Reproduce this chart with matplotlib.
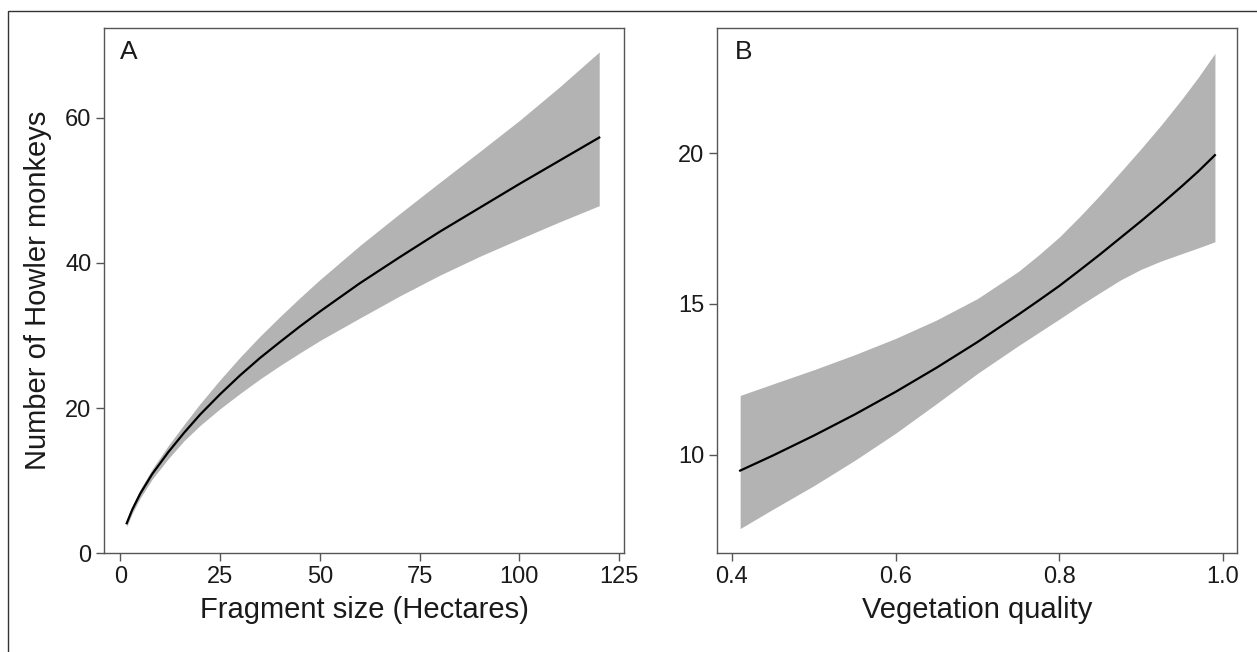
import matplotlib
matplotlib.use("Agg")
import matplotlib.pyplot as plt
from matplotlib.patches import Rectangle

plt.rcParams['font.family'] = ['Liberation Sans', 'DejaVu Sans']

# panel A: fragment size vs predicted number of monkeys
size_ha = [1.6, 3, 5, 8, 12, 16, 20, 25, 30, 35, 40, 45, 50, 60, 70, 80, 90,
           100, 110, 120]
size_fit = [4.1, 6.0, 8.2, 10.9, 13.9, 16.6, 19.1, 21.9, 24.5, 26.9, 29.1, 31.25,
            33.3, 37.2, 40.8, 44.3, 47.6, 50.9, 54.1, 57.3]
size_hi = [4.55, 6.5, 8.8, 11.6, 14.8, 17.75, 20.6, 23.9, 27.0, 29.9, 32.6, 35.2,
           37.7, 42.4, 46.8, 51.1, 55.35, 59.65, 64.25, 69.1]
size_lo = [3.65, 5.5, 7.6, 10.2, 13.0, 15.5, 17.6, 19.9, 22.0, 24.0, 25.85, 27.6,
           29.3, 32.4, 35.45, 38.3, 40.9, 43.3, 45.65, 47.9]

# panel B: vegetation quality
veg_q = [0.41, 0.45, 0.5, 0.55, 0.6, 0.65, 0.7, 0.75, 0.775, 0.8, 0.825, 0.85,
         0.875, 0.9, 0.925, 0.95, 0.97, 0.99]
veg_fit = [9.48, 9.98, 10.64, 11.34, 12.09, 12.89, 13.74, 14.65, 15.12, 15.6,
           16.12, 16.65, 17.2, 17.75, 18.32, 18.91, 19.4, 19.93]
veg_hi = [11.97, 12.35, 12.82, 13.32, 13.86, 14.47, 15.18, 16.08, 16.63, 17.22,
          17.9, 18.62, 19.38, 20.15, 20.95, 21.8, 22.52, 23.3]
veg_lo = [7.56, 8.2, 8.98, 9.82, 10.72, 11.7, 12.7, 13.62, 14.06, 14.5,
          14.95, 15.38, 15.8, 16.15, 16.43, 16.67, 16.86, 17.06]

xticks_a = [0, 25, 50, 75, 100, 125]
yticks_a = [0, 20, 40, 60]
xticks_b = [0.4, 0.6, 0.8, 1.0]
yticks_b = [10, 15, 20]

band = '#b3b3b3'
frame = '#555555'
ink = '#1a1a1a'

fig = plt.figure(figsize=(12.57, 6.52), dpi=100)
# outer frame of the figure (only the left and top edges show)
fig.patches.append(Rectangle((8 / 1257, -0.1), 1.2, 1.1 - 11 / 652,
                             transform=fig.transFigure, fill=False,
                             edgecolor='#333333', linewidth=1.0))

ax1 = fig.add_axes([0.0827, 0.1518, 0.4137, 0.8052])
ax2 = fig.add_axes([0.5704, 0.1518, 0.4137, 0.8052])


def style(ax):
    for s in ax.spines.values():
        s.set_color(frame)
        s.set_linewidth(1.0)
    ax.tick_params(axis='both', direction='out', length=6, width=1.0,
                   color=frame, labelsize=17, labelcolor=ink, pad=3)


ax1.fill_between(size_ha, size_lo, size_hi, color=band, linewidth=0)
ax1.plot(size_ha, size_fit, color='black', linewidth=1.6)
ax1.set_xlim(-4.1, 126.2)
ax1.set_ylim(0, 72.4)
ax1.set_xticks(xticks_a)
ax1.set_yticks(yticks_a)
ax1.set_xlabel('Fragment size (Hectares)', fontsize=21, color=ink)
ax1.set_ylabel('Number of Howler monkeys', fontsize=21, color=ink)
ax1.text(0.031, 0.954, 'A', transform=ax1.transAxes, fontsize=19,
         ha='left', va='center', color=ink)
style(ax1)

ax2.fill_between(veg_q, veg_lo, veg_hi, color=band, linewidth=0)
ax2.plot(veg_q, veg_fit, color='black', linewidth=1.6)
ax2.set_xlim(0.3817, 1.017)
ax2.set_ylim(6.75, 24.14)
ax2.set_xticks(xticks_b)
ax2.set_xticklabels(['%.1f' % v for v in xticks_b])
ax2.set_yticks(yticks_b)
ax2.set_xlabel('Vegetation quality', fontsize=21, color=ink)
ax2.text(0.035, 0.954, 'B', transform=ax2.transAxes, fontsize=19,
         ha='left', va='center', color=ink)
style(ax2)

for ax in (ax1, ax2):
    ax.xaxis.set_label_coords(0.5, -0.109)
    ax.xaxis.label.set_va('center')
ax1.yaxis.set_label_coords(-0.127, 0.5)
ax1.yaxis.label.set_va('center')

fig.savefig('out.png', dpi=100)
